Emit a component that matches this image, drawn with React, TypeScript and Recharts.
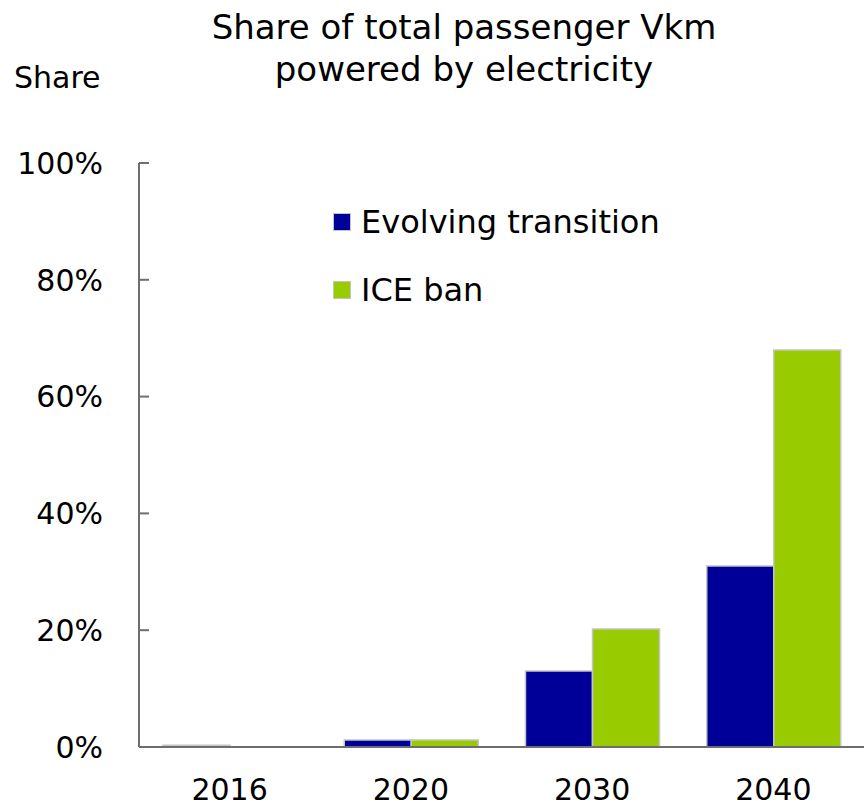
import { BarChart, Bar, XAxis, YAxis } from 'recharts'

// Share of total passenger Vkm powered by electricity, by scenario
const YEARS = ['2016', '2020', '2030', '2040']
const EVOLVING = [0.3, 1.2, 13, 31]
const ICE_BAN = [0, 1.2, 20.2, 68]
const Y_TICKS = [0, 20, 40, 60, 80, 100]

const SERIES = [
  { key: 'evolving', name: 'Evolving transition', color: '#000099' },
  { key: 'iceBan', name: 'ICE ban', color: '#99cc00' },
]

const data = YEARS.map((year, i) => ({ year, evolving: EVOLVING[i], iceBan: ICE_BAN[i] }))

const FONT = '"DejaVu Sans", sans-serif'
const AXIS = '#6e6e6e'

function YTick(props: any) {
  const { x, y, payload } = props
  return (
    <g>
      <line x1={x} x2={x + 10} y1={y} y2={y} stroke={AXIS} strokeWidth={2} />
      <text x={x - 36} y={y} dy="0.36em" textAnchor="end" fontSize={30} fill="#000">
        {`${payload.value}%`}
      </text>
    </g>
  )
}

export default function App() {
  return (
    <div style={{ position: 'absolute', left: 0, top: 0, width: 864, height: 808, fontFamily: FONT, background: '#fff', overflow: 'hidden' }}>
      <div style={{ position: 'absolute', left: 164, width: 600, top: 6, textAlign: 'center', fontSize: 34, lineHeight: '42px', color: '#000', whiteSpace: 'nowrap' }}>
        Share of total passenger Vkm<br />powered by electricity
      </div>
      <div style={{ position: 'absolute', left: 14, top: 60, fontSize: 30, color: '#000' }}>Share</div>

      <BarChart width={864} height={808} data={data}
        margin={{ top: 163, right: 0, bottom: 0, left: 0 }} barGap={0} barSize={67}>
        <XAxis dataKey="year" height={61} tickLine={false} tickSize={0} tickMargin={32}
          axisLine={{ stroke: AXIS, strokeWidth: 2 }}
          tick={{ fontSize: 30, fill: '#000' }} />
        <YAxis width={139} domain={[0, 100]} ticks={Y_TICKS} interval={0}
          tickLine={false} tickSize={0} tickMargin={0}
          axisLine={{ stroke: AXIS, strokeWidth: 2 }} tick={<YTick />} />
        {SERIES.map((s) => (
          <Bar key={s.key} dataKey={s.key} name={s.name} fill={s.color}
            stroke="#c4c4c4" strokeWidth={1.5} isAnimationActive={false} />
        ))}
      </BarChart>

      <div style={{ position: 'absolute', left: 333, top: 200 }}>
        {SERIES.map((s) => (
          <div key={s.key} style={{ display: 'flex', alignItems: 'center', height: 44, marginBottom: 24 }}>
            <span style={{ width: 16, height: 16, background: s.color, border: '1.5px solid #c4c4c4', marginRight: 10 }} />
            <span style={{ fontSize: 32, color: '#000' }}>{s.name}</span>
          </div>
        ))}
      </div>
    </div>
  )
}
